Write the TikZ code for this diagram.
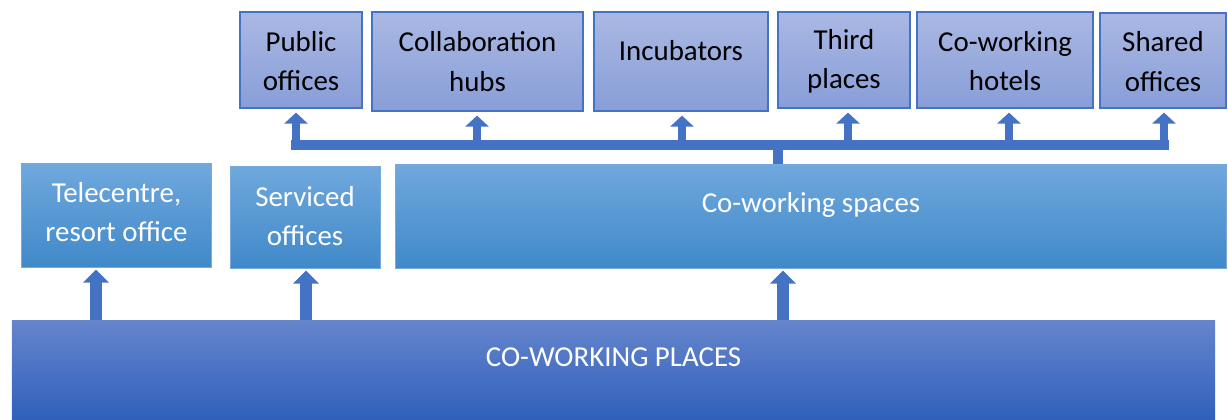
\documentclass[tikz,border=0pt]{standalone}
\usepackage{fontspec}
\setmainfont{Carlito}
\usetikzlibrary{arrows.meta}

\definecolor{topA}{RGB}{170,184,227}
\definecolor{topB}{RGB}{136,158,216}
\definecolor{midA}{RGB}{112,168,221}
\definecolor{midB}{RGB}{64,137,201}
\definecolor{baseA}{RGB}{101,133,204}
\definecolor{baseB}{RGB}{46,94,186}
\definecolor{edgeblue}{RGB}{68,114,196}
\definecolor{midedge}{RGB}{120,170,222}
\definecolor{arrowblue}{RGB}{68,114,196}

\newcommand{\boxfont}{\fontsize{29}{39.5}\selectfont}

\begin{document}
\begin{tikzpicture}[x=1bp, y=-1bp,
  kind/.style={rectangle, inner sep=0pt, draw=edgeblue, line width=1.2bp,
    top color=topA, bottom color=topB},
  family/.style={rectangle, inner sep=0pt, draw=midedge, line width=1bp,
    top color=midA, bottom color=midB},
  basebox/.style={rectangle, inner sep=0pt, top color=baseA, bottom color=baseB},
  tag/.style={font=\boxfont, align=center, text=black},
  wtag/.style={font=\boxfont, align=center, text=white},
  branch/.style={draw=arrowblue, line width=8.5bp,
    -{Triangle[width=23bp,length=11bp]}, shorten >=4bp},
  rise/.style={draw=arrowblue, line width=12bp,
    -{Triangle[width=25bp,length=13bp]}, shorten >=2bp},
  rail/.style={draw=arrowblue, line width=9.5bp}
]
\useasboundingbox (0,0) rectangle (1228,419);

% co-working place types
\node[kind, minimum width=122bp, minimum height=96bp,
  label={[tag, yshift=-1bp]center:Public\\offices}] (pub) at (301,60) {};
\node[kind, minimum width=211bp, minimum height=99bp,
  label={[tag]center:Collaboration\\hubs}] (hub) at (477.5,61.5) {};
\node[kind, minimum width=174bp, minimum height=99bp,
  label={[tag, yshift=11bp]center:Incubators}] (inc) at (681,61.5) {};
\node[kind, minimum width=132bp, minimum height=96bp,
  label={[tag, yshift=-1bp]center:Third\\places}] (third) at (844,60) {};
\node[kind, minimum width=176bp, minimum height=96bp,
  label={[tag, yshift=-1bp]center:Co-working\\hotels}] (hotel) at (1005,60) {};
\node[kind, minimum width=126bp, minimum height=95bp,
  label={[tag, yshift=-1bp]center:Shared\\offices}] (shared) at (1163,60.5) {};

% middle families
\node[family, minimum width=189bp, minimum height=104bp,
  label={[wtag, yshift=3bp]center:Telecentre,\\resort office}] (tele) at (116.5,215) {};
\node[family, minimum width=150bp, minimum height=102bp,
  label={[wtag, yshift=1bp]center:Serviced\\offices}] (serv) at (305,217) {};
\node[family, minimum width=830bp, minimum height=104bp,
  label={[wtag, yshift=11bp]center:Co-working spaces}] (cws) at (811,216) {};

% base
\node[basebox, minimum width=1203bp, minimum height=104bp,
  label={[wtag, yshift=15bp]center:CO-WORKING PLACES}] (base) at (613.5,372) {};

% arrows from the base to the families
\coordinate (r1) at (96,320);
\coordinate (r2) at (306,320);
\coordinate (r3) at (783,320);
\draw[rise] (r1) -- (r1 |- tele.south);
\draw[rise] (r2) -- (r2 |- serv.south);
\draw[rise] (r3) -- (r3 |- cws.south);

% distribution rail above the co-working spaces
\coordinate (railL) at (291,145);
\coordinate (railR) at (1168.5,145);
\coordinate (railJ) at (778,145);
\draw[rail] (railL) -- (railR);
\draw[rail] (railJ) -- (railJ |- cws.north);

\coordinate (b1) at (296,145);
\coordinate (b2) at (477,145);
\coordinate (b3) at (682,145);
\coordinate (b4) at (848,145);
\coordinate (b5) at (1009,145);
\coordinate (b6) at (1164,145);
\draw[branch] (b1) -- (b1 |- pub.south);
\draw[branch] (b2) -- (b2 |- hub.south);
\draw[branch] (b3) -- (b3 |- inc.south);
\draw[branch] (b4) -- (b4 |- third.south);
\draw[branch] (b5) -- (b5 |- hotel.south);
\draw[branch] (b6) -- (b6 |- shared.south);
\end{tikzpicture}
\end{document}
